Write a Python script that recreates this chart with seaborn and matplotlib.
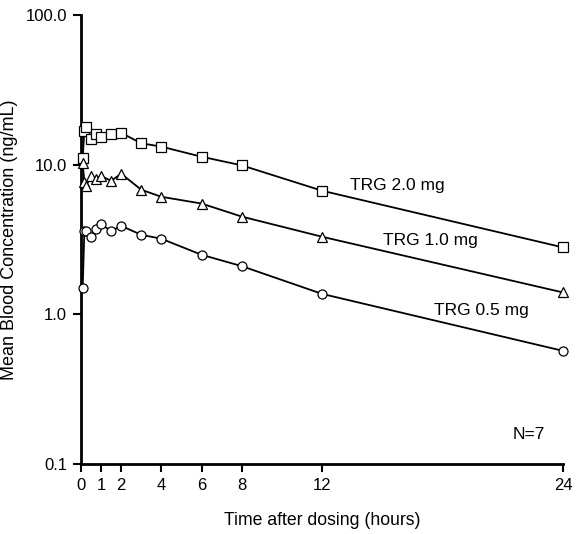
import numpy as np
import pandas as pd
import seaborn as sns
from matplotlib import pyplot as plt
from matplotlib.ticker import FixedLocator, FormatStrFormatter, NullLocator

# sampling times (hours) and mean concentrations (ng/mL)
time_h = [0.083, 0.167, 0.25, 0.5, 0.75, 1, 1.5, 2, 3, 4, 6, 8, 12, 24]
conc_2_0 = [11.1, 16.9, 17.9, 14.8, 16.0, 15.4, 16.0, 16.3, 13.9, 13.2, 11.3, 9.9, 6.7, 2.8]
conc_1_0 = [10.2, 7.7, 7.2, 8.4, 8.0, 8.4, 7.8, 8.7, 6.8, 6.1, 5.5, 4.5, 3.3, 1.4]
conc_0_5 = [1.5, 3.6, 3.6, 3.3, 3.7, 4.0, 3.6, 3.9, 3.4, 3.2, 2.5, 2.1, 1.37, 0.57]
doses = ['TRG 2.0 mg', 'TRG 1.0 mg', 'TRG 0.5 mg']
x_ticks = [0, 1, 2, 4, 6, 8, 12, 24]
y_ticks = [0.1, 1, 10, 100]


def main():
    df = pd.DataFrame({
        'time': time_h * 3,
        'conc': conc_2_0 + conc_1_0 + conc_0_5,
        'dose': np.repeat(doses, len(time_h)),
    })

    sns.set_theme(style='white')
    plt.rcParams['font.family'] = ['Liberation Sans', 'DejaVu Sans']
    plt.rcParams['text.color'] = 'black'
    plt.rcParams['axes.labelcolor'] = 'black'

    fig = plt.figure(figsize=(5.77, 5.34), dpi=100)
    ax = fig.add_axes([0.1404, 0.1311, 0.8354, 0.8408])

    sns.lineplot(data=df, x='time', y='conc', style='dose', ax=ax,
                 markers={'TRG 2.0 mg': 's', 'TRG 1.0 mg': '^', 'TRG 0.5 mg': 'o'},
                 dashes=False, color='black', linewidth=1.3, markersize=6.5,
                 markerfacecolor='white', markeredgecolor='black',
                 markeredgewidth=0.9, legend=False, clip_on=False, zorder=3)

    ax.set_yscale('log')
    ax.set_ylim(0.1, 100)
    ax.set_xlim(0, 24)
    ax.yaxis.set_major_locator(FixedLocator(y_ticks))
    ax.yaxis.set_minor_locator(NullLocator())
    ax.yaxis.set_major_formatter(FormatStrFormatter('%.1f'))
    ax.set_xticks(x_ticks)
    ax.set_xticklabels([str(t) for t in x_ticks])

    sns.despine(ax=ax)
    for s in ['left', 'bottom']:
        ax.spines[s].set_color('black')
        ax.spines[s].set_linewidth(2)
    ax.tick_params(axis='both', direction='out', length=6, width=1.5,
                   color='black', labelsize=12, labelcolor='black',
                   left=True, bottom=True, pad=4)

    ax.set_xlabel('Time after dosing (hours)', fontsize=12.7, labelpad=14)
    ax.set_ylabel('Mean Blood Concentration (ng/mL)', fontsize=13)
    ax.yaxis.set_label_coords(-0.131, 0.5)

    ax.text(13.4, 7.25, 'TRG 2.0 mg', fontsize=12.5, va='center', ha='left')
    ax.text(15.05, 3.11, 'TRG 1.0 mg', fontsize=12.5, va='center', ha='left')
    ax.text(17.6, 1.06, 'TRG 0.5 mg', fontsize=12.5, va='center', ha='left')
    ax.text(21.5, 0.158, 'N=7', fontsize=12.5, va='center', ha='left')

    fig.savefig('out.png', dpi=100)


if __name__ == "__main__":
    main()
